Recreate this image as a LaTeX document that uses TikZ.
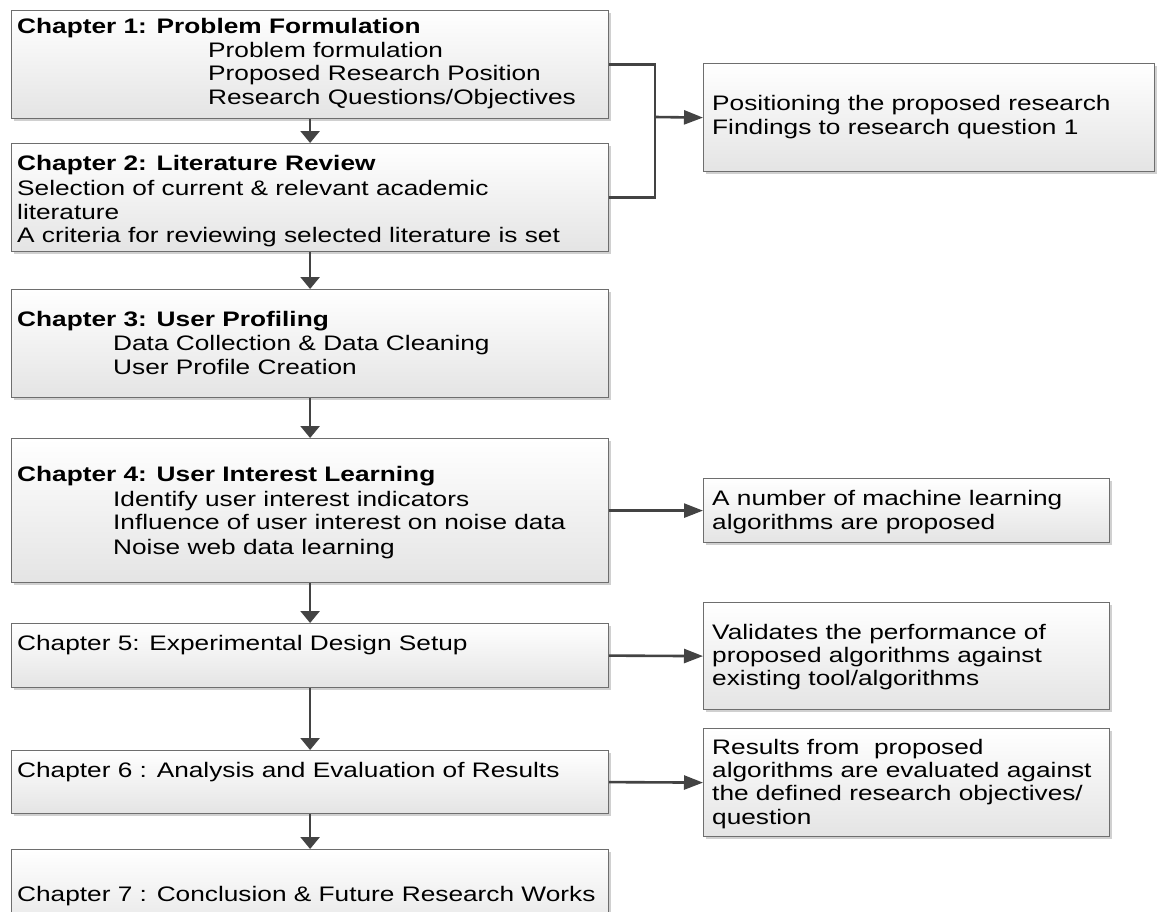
\documentclass[tikz,border=0pt]{standalone}
\usepackage{fontspec}
\setmainfont[FakeStretch=1.25]{Liberation Sans}
\usetikzlibrary{arrows.meta,shadows}

\definecolor{boxedge}{HTML}{6E6E6E}
\definecolor{boxlow}{HTML}{E4E4E4}
\definecolor{linkgray}{HTML}{434343}

\tikzset{
  chbox/.style={draw=boxedge, line width=1.2pt, top color=white, bottom color=boxlow,
    anchor=north west, inner sep=0pt,
    drop shadow={shadow xshift=2.5pt, shadow yshift=-2.5pt, opacity=0.3, fill=black!60}},
  txt/.style={anchor=west, inner sep=0pt, text height=15pt, text depth=0pt,
    font=\fontsize{21}{24}\selectfont},
  btxt/.style={txt, font=\fontsize{21}{24}\selectfont\bfseries},
  link/.style={draw=linkgray, line width=2.6pt},
  varrow/.style={link, -{Triangle[length=12pt,width=19pt]}},
  harrow/.style={link, -{Triangle[length=19pt,width=14pt]}},
}

\begin{document}
\begin{tikzpicture}[x=1pt, y=-1pt]
\useasboundingbox (0,0) rectangle (1157,911);
\fill[white] (0,0) rectangle (1157,911);
\clip (0,0) rectangle (1157,911);

% chapter boxes (left column)
\node[chbox, minimum width=597pt, minimum height=108pt] (c1) at (11,10) {};
\node[chbox, minimum width=597pt, minimum height=108pt] (c2) at (11,143) {};
\node[chbox, minimum width=597pt, minimum height=108pt] (c3) at (11,289) {};
\node[chbox, minimum width=597pt, minimum height=144pt] (c4) at (11,438) {};
\node[chbox, minimum width=597pt, minimum height=64pt]  (c5) at (11,623) {};
\node[chbox, minimum width=597pt, minimum height=63pt]  (c6) at (11,750) {};
\node[chbox, minimum width=597pt, minimum height=90pt]  (c7) at (11,849) {};

% outcome boxes (right column)
\node[chbox, minimum width=451pt, minimum height=108pt] (r1) at (703,63) {};
\node[chbox, minimum width=406pt, minimum height=64pt]  (r4) at (703,478) {};
\node[chbox, minimum width=406pt, minimum height=107pt] (r5) at (703,602) {};
\node[chbox, minimum width=406pt, minimum height=108pt] (r6) at (703,728) {};

% chapter texts
\node[btxt] (t1a) at (17,26) {Chapter 1: Problem Formulation};
\node[txt]  (t1b) at (208,50) {Problem formulation};
\node[txt]  (t1c) at (208,73) {Proposed Research Position};
\node[txt]  (t1d) at (208,97) {Research Questions/Objectives};

\node[btxt] (t2a) at (17,163) {Chapter 2: Literature Review};
\node[txt]  (t2b) at (17,188) {Selection of current \& relevant academic};
\node[txt]  (t2c) at (17,212) {literature};
\node[txt]  (t2d) at (17,235) {A criteria for reviewing selected literature is set};

\node[btxt] (t3a) at (17,319) {Chapter 3: User Profiling};
\node[txt]  (t3b) at (113,343) {Data Collection \& Data Cleaning};
\node[txt]  (t3c) at (113,367) {User Profile Creation};

\node[btxt] (t4a) at (17,474) {Chapter 4: User Interest Learning};
\node[txt]  (t4b) at (113,499) {Identify user interest indicators};
\node[txt]  (t4c) at (113,522) {Influence of user interest on noise data};
\node[txt]  (t4d) at (113,547) {Noise web data learning};

\node[txt] (t5) at (17,643) {Chapter 5: Experimental Design Setup};
\node[txt] (t6) at (17,770) {Chapter 6 : Analysis and Evaluation of Results};
\node[txt] (t7) at (17,894) {Chapter 7 : Conclusion \& Future Research Works};

% outcome texts
\node[txt] (s1a) at (712,103) {Positioning the proposed research};
\node[txt] (s1b) at (712,127) {Findings to research question 1};

\node[txt] (s4a) at (712,498) {A number of machine learning};
\node[txt] (s4b) at (712,522) {algorithms are proposed};

\node[txt] (s5a) at (712,632) {Validates the performance of};
\node[txt] (s5b) at (712,655) {proposed algorithms against};
\node[txt] (s5c) at (712,678) {existing tool/algorithms};

\node[txt] (s6a) at (712,747) {Results from \ proposed};
\node[txt] (s6b) at (712,770) {algorithms are evaluated against};
\node[txt] (s6c) at (712,793) {the defined research objectives/};
\node[txt] (s6d) at (712,817) {question};

% chapter sequence
\draw[varrow] (c1.south) -- (c2.north);
\draw[varrow] (c2.south) -- (c3.north);
\draw[varrow] (c3.south) -- (c4.north);
\draw[varrow] (c4.south) -- (c5.north);
\draw[varrow] (c5.south) -- (c6.north);
\draw[varrow] (c6.south) -- (c7.north);

% chapters 1 and 2 joined into one outcome
\coordinate (jn) at (655,117);
\draw[link] (c1.east) -| (jn) |- (c2.east);
\draw[harrow] (jn) -- (r1.west);

% chapter outcomes
\draw[harrow] (c4.east) -- (r4.west);
\draw[harrow] (c5.east) -- (r5.west);
\draw[harrow] (c6.east) -- (r6.west);
\end{tikzpicture}
\end{document}
